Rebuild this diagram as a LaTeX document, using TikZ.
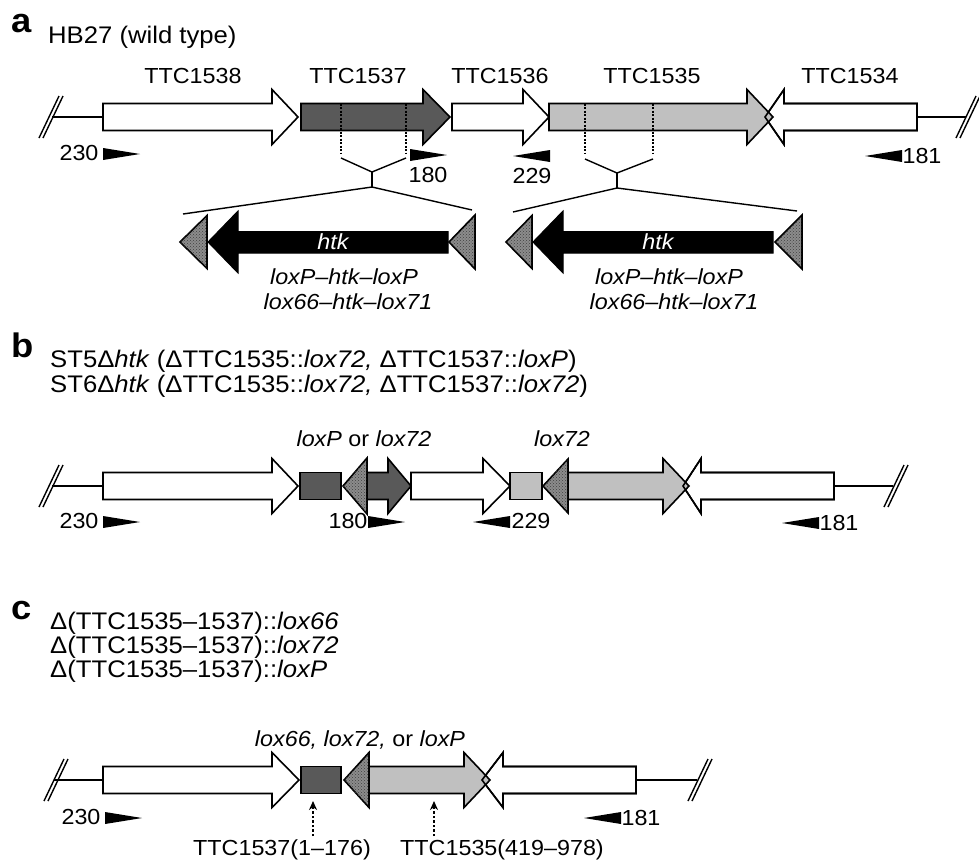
\documentclass[tikz,border=0pt]{standalone}
\usepackage{fontspec}
\setmainfont{Liberation Sans}[FakeStretch=1.07]
\usetikzlibrary{patterns,arrows.meta}
\definecolor{darkg}{HTML}{595959}
\definecolor{lightg}{HTML}{C0C0C0}
\definecolor{hatchg}{HTML}{8C8C8C}
% gene arrow pointing right: x1 (box start), xh (head start), xt (tip), yc, style
\newcommand{\GeneRt}[5]{\draw[#5] (#1,{#4-13.5}) -- (#2,{#4-13.5}) -- (#2,{#4-27.5}) -- (#3,#4) -- (#2,{#4+27.5}) -- (#2,{#4+13.5}) -- (#1,{#4+13.5}) -- cycle;}
% gene arrow pointing left: xt (tip), xh (head base), x2 (box end), yc, style
\newcommand{\GeneLt}[5]{\draw[#5] (#1,#4) -- (#2,{#4-27.5}) -- (#2,{#4-13.5}) -- (#3,{#4-13.5}) -- (#3,{#4+13.5}) -- (#2,{#4+13.5}) -- (#2,{#4+27.5}) -- cycle;}
% lox triangle pointing left: tip, base, yc, half height
\newcommand{\LoxTri}[4]{\draw[hatchtri] (#1,#3) -- (#2,{#3-#4}) -- (#2,{#3+#4}) -- cycle;}
% break mark
\newcommand{\BreakMk}[2]{\draw[brk] ({#1-12},{#2+21}) -- ({#1+8},{#2-21}); \draw[brk] ({#1-8},{#2+21}) -- ({#1+12},{#2-21});}
% primers
\newcommand{\PrimRt}[2]{\fill (#1,{#2-6}) -- ({#1+37},#2) -- (#1,{#2+6}) -- cycle;}
\newcommand{\PrimLt}[2]{\fill (#1,#2) -- ({#1+37},{#2-6}) -- ({#1+37},{#2+6}) -- cycle;}
\begin{document}
\begin{tikzpicture}[x=1pt,y=-1pt,line join=miter,
  gl/.style={draw=black,line width=1.6pt},
  wgene/.style={gl,fill=white},
  wline/.style={gl},
  dgene/.style={gl,fill=darkg},
  lgene/.style={gl,fill=lightg},
  hatchtri/.style={gl,fill=hatchg,postaction={pattern=crosshatch dots,pattern color=black!75}},
  brk/.style={line width=1.4pt},
  chrom/.style={line width=1.4pt},
  dotv/.style={line width=1.3pt,dash pattern=on 2pt off 1.5pt},
  thin/.style={line width=1.4pt},
  lbl/.style={font=\fontsize{21.8}{25}\selectfont,inner sep=0pt},
  itl/.style={lbl,font=\fontsize{21.8}{25}\selectfont\itshape},
  ttl/.style={font=\fontsize{24}{26}\selectfont,inner sep=0pt,anchor=base west},
  plet/.style={font=\fontsize{34}{34}\selectfont\bfseries,inner sep=0pt,anchor=base west},
  dotarr/.style={line width=1.5pt,dash pattern=on 2.5pt off 2pt,-{Stealth[length=9pt,width=8pt]}}]
\useasboundingbox (0,0) rectangle (979,863);

% ---------------- panel a ----------------
\node[plet] (la) at (11,32) {a};
\node[ttl] (ta) at (48,43) {HB27 (wild type)};
\node[lbl,anchor=base] (n1538) at (193,83) {TTC1538};
\node[lbl,anchor=base] (n1537) at (358,83) {TTC1537};
\node[lbl,anchor=base] (n1536) at (500,83) {TTC1536};
\node[lbl,anchor=base] (n1535) at (652,83) {TTC1535};
\node[lbl,anchor=base] (n1534) at (850,83) {TTC1534};

\draw[chrom] (52,117) -- (103,117);
\draw[chrom] (917,117) -- (966,117);
\BreakMk{51}{117}
\BreakMk{968}{117}
\GeneRt{103}{272}{298}{117}{wgene}
\GeneRt{301}{423}{450}{117}{dgene}
\GeneRt{452}{523}{549}{117}{wgene}
\GeneLt{765}{784}{917}{117}{wgene}
\GeneRt{549}{747}{773}{117}{lgene}
\GeneLt{765}{784}{917}{117}{wline}

% dotted deletion marks
\draw[dotv] (341,103.5) -- (341,153);
\draw[dotv] (406,103.5) -- (406,153);
\draw[dotv] (585,103.5) -- (585,153);
\draw[dotv] (653,103.5) -- (653,153);
\coordinate (va1) at (341,158);
\coordinate (va2) at (406,158);
\coordinate (vam) at (372,172);
\coordinate (vas) at (372,187);
\coordinate (ba1) at (183,214);
\coordinate (ba2) at (472,210);
\draw[thin] (va1) -- (vam) -- (va2);
\draw[thin] (vam) -- (vas);
\draw[thin] (ba1) -- (vas) -- (ba2);
\coordinate (vb1) at (585,159);
\coordinate (vb2) at (653,159);
\coordinate (vbm) at (617,173);
\coordinate (vbs) at (617,188);
\coordinate (bb1) at (513,212);
\coordinate (bb2) at (797,211);
\draw[thin] (vb1) -- (vbm) -- (vb2);
\draw[thin] (vbm) -- (vbs);
\draw[thin] (bb1) -- (vbs) -- (bb2);

% primers a
\node[lbl] (p230a) at (79,153) {230};
\PrimRt{103}{154}
\PrimRt{410}{155}
\node[lbl] (p180a) at (428,175) {180};
\PrimLt{513}{156}
\node[lbl] (p229a) at (532,176) {229};
\PrimLt{865}{156}
\node[lbl] (p181a) at (922,156) {181};

% cassettes
\LoxTri{180}{207}{242}{26.5}
\draw[fill=black,draw=black,line width=1pt] (208,242) -- (238,211) -- (238,231.5) -- (448,231.5) -- (448,253) -- (238,253) -- (238,273) -- cycle;
\LoxTri{449}{475}{242}{27}
\node[itl,text=white] (htk1) at (333,242) {htk};
\node[itl,anchor=base] (c1a) at (344,284) {loxP–htk–loxP};
\node[itl,anchor=base] (c1b) at (348,309) {lox66–htk–lox71};

\LoxTri{506}{532}{242}{26.5}
\draw[fill=black,draw=black,line width=1pt] (533,242) -- (563,211) -- (563,231.5) -- (773,231.5) -- (773,253) -- (563,253) -- (563,273) -- cycle;
\LoxTri{775}{802}{242}{27}
\node[itl,text=white] (htk2) at (658,242) {htk};
\node[itl,anchor=base] (c2a) at (669,284) {loxP–htk–loxP};
\node[itl,anchor=base] (c2b) at (674,309) {lox66–htk–lox71};

% ---------------- panel b ----------------
\node[plet] (lb) at (11,357) {b};
\node[ttl] (tb1) at (50,367) {ST5Δ\textit{htk} (ΔTTC1535::\textit{lox72,} ΔTTC1537::\textit{loxP})};
\node[ttl] (tb2) at (50,392) {ST6Δ\textit{htk} (ΔTTC1535::\textit{lox72,} ΔTTC1537::\textit{lox72})};
\node[lbl,anchor=base] (lbx1) at (364,446) {\textit{loxP} or \textit{lox72}};
\node[lbl,anchor=base] (lbx2) at (562,446) {\textit{lox72}};

\draw[chrom] (52,486) -- (103,486);
\draw[chrom] (834,486) -- (893,486);
\BreakMk{51}{486}
\BreakMk{896}{486}
\GeneRt{103}{272}{298}{486}{wgene}
\draw[dgene] (300,472.5) rectangle (341,499.5);
\GeneRt{367}{388}{411}{486}{dgene}
\LoxTri{343}{367}{486}{28}
\GeneRt{411}{483}{510}{486}{wgene}
\draw[lgene] (510,472.5) rectangle (542,499.5);
\GeneLt{683}{701}{834}{486}{wgene}
\GeneRt{568}{663}{689}{486}{lgene}
\GeneLt{683}{701}{834}{486}{wline}
\LoxTri{543}{568}{486}{27}

\node[lbl] (p230b) at (79,521) {230};
\PrimRt{103}{522}
\node[lbl] (p180b) at (348,521) {180};
\PrimRt{368}{522}
\PrimLt{473}{522}
\node[lbl] (p229b) at (531,521) {229};
\PrimLt{782}{523}
\node[lbl] (p181b) at (839,523) {181};

% ---------------- panel c ----------------
\node[plet] (lc) at (11,619) {c};
\node[ttl] (tc1) at (50,629) {Δ(TTC1535–1537)::\textit{lox66}};
\node[ttl] (tc2) at (50,653) {Δ(TTC1535–1537)::\textit{lox72}};
\node[ttl] (tc3) at (50,677) {Δ(TTC1535–1537)::\textit{loxP}};
\node[lbl,anchor=base] (lcx) at (360,746) {\textit{lox66,} \textit{lox72,} or \textit{loxP}};

\draw[chrom] (54,780) -- (103,780);
\draw[chrom] (636,780) -- (697,780);
\BreakMk{56}{780}
\BreakMk{700}{780}
\GeneRt{103}{272}{299}{780}{wgene}
\draw[dgene] (301,766.5) rectangle (341,793.5);
\GeneLt{482}{503}{636}{780}{wgene}
\GeneRt{369}{464}{490}{780}{lgene}
\GeneLt{482}{503}{636}{780}{wline}
\LoxTri{344}{369}{780}{27.5}

\node[lbl] (p230c) at (81,817) {230};
\PrimRt{105}{818}
\PrimLt{584}{818}
\node[lbl] (p181c) at (641,818) {181};

\node[lbl,anchor=base] (tl1) at (282,855) {TTC1537(1–176)};
\node[lbl,anchor=base] (tl2) at (502,855) {TTC1535(419–978)};
\draw[dotarr] (tl1.north -| 313,0) ++(0,-3) -- (313,801);
\draw[dotarr] (tl2.north -| 434,0) ++(0,-3) -- (434,801);
\end{tikzpicture}
\end{document}
